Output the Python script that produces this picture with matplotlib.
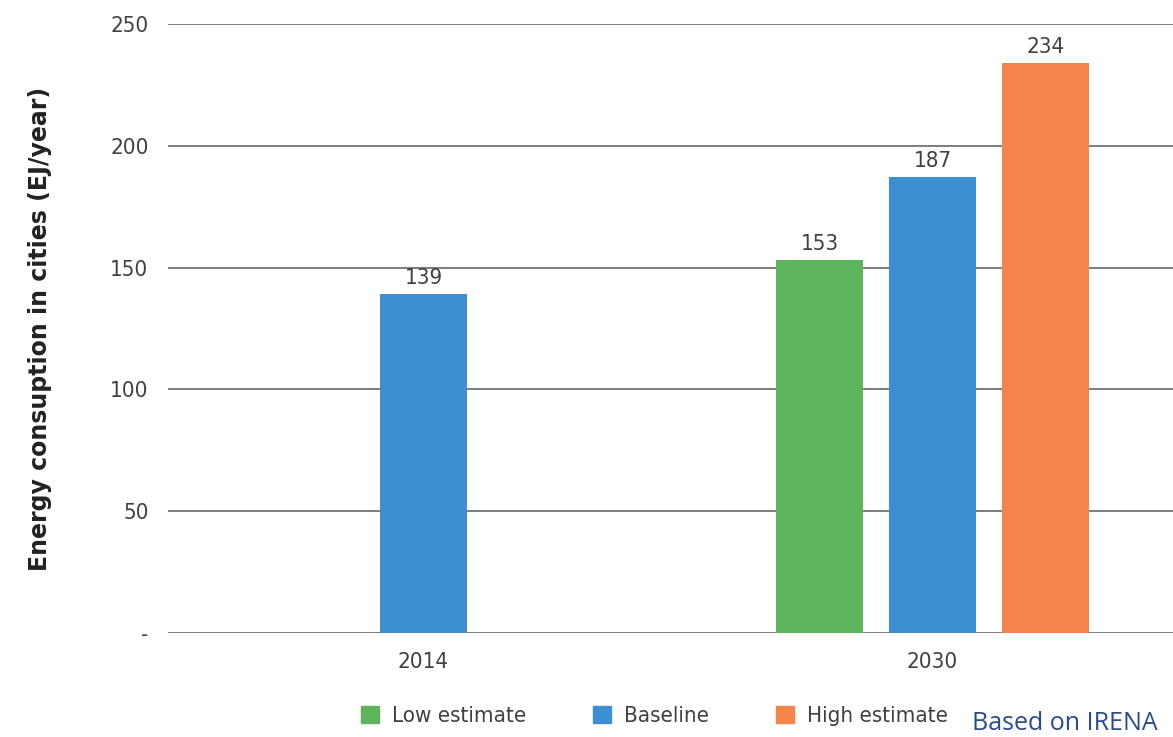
import numpy as np
import matplotlib.pyplot as plt
from matplotlib.patches import Patch

years = ['2014', '2030']
low_estimate = [np.nan, 153]
baseline = [139, 187]
high_estimate = [np.nan, 234]
series_names = ['Low estimate', 'Baseline', 'High estimate']
yticks = [0, 50, 100, 150, 200, 250]
ytick_labels = ['-', '50', '100', '150', '200', '250']

colors = ['#5db55b', '#3d8fd4', '#f5844a']
text_gray = '#404040'
narrow = dict(family='DejaVu Sans', stretch='condensed')

fig = plt.figure(figsize=(11.73, 7.37), dpi=100)
ax = fig.add_axes([0.1432, 0.1411, 0.8568, 0.8263])

x = np.arange(len(years))
width = 0.171
step = 0.222
for i, (vals, color) in enumerate(zip([low_estimate, baseline, high_estimate], colors)):
    for xi, v in zip(x, vals):
        if np.isnan(v):
            continue
        # 2014 only has the baseline, so it sits in the middle of its group
        o = 0 if xi == 0 else (i - 1) * step
        ax.bar(xi + o, v, width=width, color=color, zorder=3)
        ax.text(xi + o, v + 2.5, f'{v:.0f}', ha='center', va='bottom',
                fontsize=16, color=text_gray, **narrow)

ax.set_xlim(-0.502, 1.4725)
ax.set_ylim(0, 250)
ax.set_yticks(yticks)
ax.set_yticklabels(ytick_labels, fontsize=16, color=text_gray, **narrow)
ax.set_xticks(x)
ax.set_xticklabels(years, fontsize=16, color=text_gray, **narrow)
ax.tick_params(axis='both', length=0)
ax.tick_params(axis='y', pad=14)
ax.tick_params(axis='x', pad=14)
ax.grid(axis='y', color='#5a5a5a', linewidth=1.1, zorder=0)
for s in ax.spines.values():
    s.set_visible(False)

ax.set_ylabel('Energy consuption in cities (EJ/year)', fontsize=17,
              fontweight='bold', color='#222222', labelpad=42)

handles = [Patch(color=c, label=n) for c, n in zip(colors, series_names)]
fig.legend(handles=handles, loc='center', bbox_to_anchor=(0.558, 0.028),
           ncol=3, frameon=False, handlelength=0.8, handleheight=0.8,
           handletextpad=0.6, columnspacing=3.0,
           prop={'family': 'DejaVu Sans', 'stretch': 'condensed', 'size': 16})
for t in fig.legends[0].get_texts():
    t.set_color(text_gray)

fig.text(0.829, 0.002, 'Based on IRENA', fontsize=18, color='#2b4c8c',
         family=['Open Sans', 'DejaVu Sans'], ha='left', va='bottom')

fig.savefig('out.png', dpi=100)
